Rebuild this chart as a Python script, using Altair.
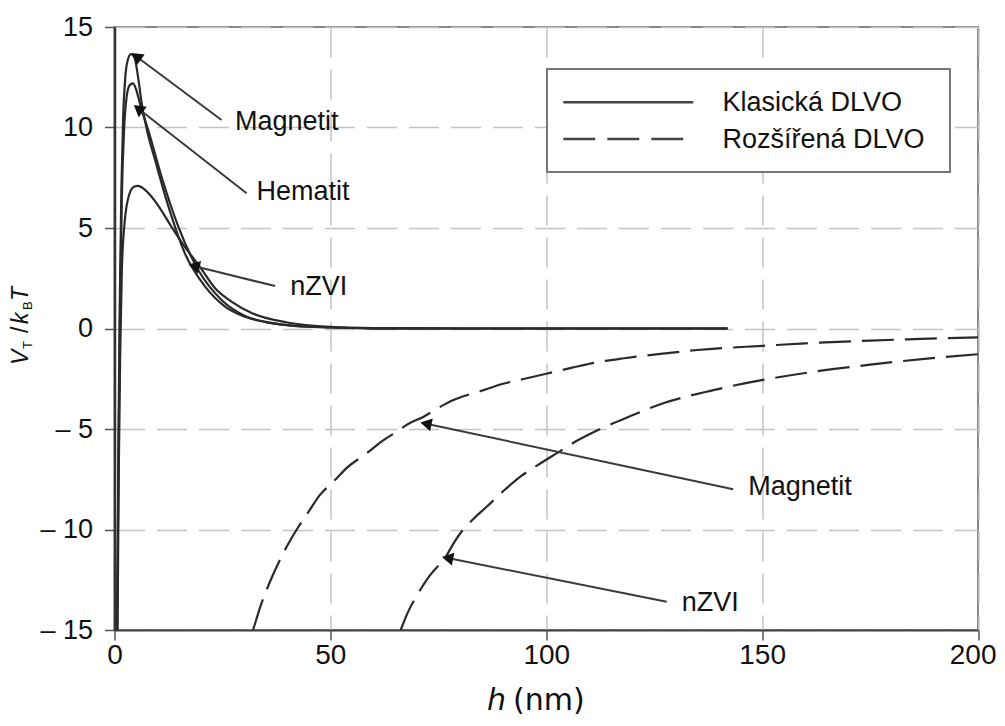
import math
import altair as alt
import pandas as pd

# ---------------- data ----------------
# Classical DLVO (solid lines)
mag_c_h = [0.6, 0.9, 1.2, 1.6, 2.0, 2.5, 3.0, 3.8, 4.6, 5.4, 6.3, 7.7, 9.4, 12.5, 16.3, 21.0, 25.6, 30, 35, 40, 50, 60, 80, 142]
mag_c_v = [-15, -6, 1, 7, 10.5, 12.5, 13.3, 13.65, 13.5, 12.6, 11.2, 9.7, 8.38, 6.06, 3.74, 2.08, 1.09, 0.6, 0.32, 0.17, 0.05, 0.01, 0, 0]
hem_c_h = [0.6, 0.95, 1.3, 1.7, 2.2, 2.8, 3.5, 4.3, 5.0, 6.0, 7.8, 10.9, 14.8, 19.4, 24.8, 30, 35, 40, 50, 60, 80, 142]
hem_c_v = [-15, -6, 1, 6.5, 9.8, 11.5, 12.1, 12.2, 11.9, 11.1, 9.88, 7.55, 5.06, 2.91, 1.42, 0.65, 0.33, 0.17, 0.05, 0.01, 0, 0]
nzvi_c_h = [0.7, 1.0, 1.3, 1.7, 2.4, 3.2, 4.5, 5.5, 6.5, 8.0, 10.0, 13.2, 16.5, 19.8, 23.3, 27, 32, 40, 50, 60, 80, 142]
nzvi_c_v = [-15, -7, -1.5, 2.9, 5.4, 6.5, 7.05, 7.1, 7.0, 6.7, 6.15, 5.06, 4.0, 3.07, 2.0, 1.35, 0.75, 0.3, 0.08, 0.02, 0, 0]

# Extended DLVO (dashed lines)
mag_e_h = [32.1, 34, 36, 39.9, 42.5, 45, 47.5, 50.7, 54, 58.4, 62, 65.4, 68, 71.5, 75, 78.5, 85, 90, 95, 100, 106, 112.5, 118, 125, 135, 150.2, 160, 175, 185, 200]
mag_e_v = [-15, -13.7, -12.6, -10.85, -9.9, -9.1, -8.3, -7.62, -6.9, -6.21, -5.6, -5.13, -4.75, -4.4, -3.95, -3.56, -3.1, -2.75, -2.5, -2.25, -1.95, -1.65, -1.48, -1.3, -1.07, -0.86, -0.74, -0.6, -0.53, -0.44]
nzvi_e_h = [66.3, 68, 70, 73, 76.9, 78.5, 80.4, 83, 86.2, 90, 94, 98, 102.4, 107, 112, 119, 127.1, 138, 150.2, 162, 175, 187, 200]
nzvi_e_v = [-15, -14.1, -13.3, -12.3, -11.3, -10.7, -10.1, -9.5, -8.87, -8.1, -7.37, -6.8, -6.21, -5.6, -5.05, -4.4, -3.72, -3.1, -2.56, -2.15, -1.8, -1.52, -1.28]

series_names = ["Magnetit", "Hematit", "nZVI"]
legend_labels = ["Klasická DLVO", "Rozšířená DLVO"]

x_ticks = [0, 50, 100, 150, 200]
y_ticks = [-15, -10, -5, 0, 5, 10, 15]

# annotations: label, text position, arrow start, arrow tip (data units)
ann_label = ["Magnetit", "Hematit", "nZVI", "Magnetit", "nZVI"]
ann_tx = [27.9, 32.9, 40.7, 146.8, 131.4]
ann_ty = [10.27, 6.79, 2.06, -7.87, -13.66]
arr_x0 = [24.8, 30.6, 37.2, 143.3, 127.9]
arr_y0 = [10.37, 6.73, 2.11, -8.0, -13.59]
arr_x1 = [4.28, 4.75, 17.5, 71.2, 76.2]
arr_y1 = [13.66, 11.07, 3.16, -4.69, -11.38]

# ---------------- layout ----------------
W, H = 863.5, 603
PXX, PXY = W / 200.0, H / 30.0
FONT = "Liberation Sans"
INK = "#2a2a2a"

rows = []
for name, hs, vs in [("Magnetit", mag_c_h, mag_c_v), ("Hematit", hem_c_h, hem_c_v), ("nZVI", nzvi_c_h, nzvi_c_v)]:
    for h, v in zip(hs, vs):
        rows.append({"series": name, "h": h, "v": v})
df_classic = pd.DataFrame(rows)
rows = []
for name, hs, vs in [("Magnetit", mag_e_h, mag_e_v), ("nZVI", nzvi_e_h, nzvi_e_v)]:
    for h, v in zip(hs, vs):
        rows.append({"series": name, "h": h, "v": v})
df_ext = pd.DataFrame(rows)

xs = alt.Scale(domain=[0, 200], nice=False, zero=False)
ys = alt.Scale(domain=[-15, 15], nice=False, zero=False)

last_x = "datum.value == %d" % x_ticks[-1]
x_axis = alt.Axis(values=x_ticks, grid=True, gridDash=[30, 12], gridColor="#c4c4c4", gridWidth=1.5,
                  domain=True, domainColor="#444", domainWidth=2, ticks=True, tickSize=10,
                  tickColor="#555", tickWidth=1.5, labelFont=FONT, labelFontSize=28,
                  labelColor="#111", labelPadding=1, labelFlush=False, title=None,
                  labelAlign=alt.condition(last_x, alt.value("right"), alt.value("center")),
                  labelOffset=alt.condition(last_x, alt.value(18), alt.value(0)))
y_axis = alt.Axis(values=y_ticks, grid=True, gridDash=[30, 12], gridColor="#c4c4c4", gridWidth=1.5,
                  domain=True, domainColor="#333", domainWidth=2.5, ticks=True, tickSize=10,
                  tickColor="#555", tickWidth=1.5, labelFont=FONT, labelFontSize=27,
                  labelColor="#111", labelPadding=12, labelFlush=False, title=None,
                  labelExpr="datum.value < 0 ? '– ' + abs(datum.value) : datum.label")

zero = alt.Chart(pd.DataFrame({"h": [0], "v": [0]})).mark_rule(color="#555", strokeWidth=1.5).encode(
    x=alt.X("h:Q", scale=xs, axis=x_axis),
    y=alt.Y("v:Q", scale=ys, axis=y_axis),
)

classic = alt.Chart(df_classic).mark_line(color=INK, strokeWidth=2.2, interpolate="monotone", clip=True).encode(
    x=alt.X("h:Q", scale=xs), y=alt.Y("v:Q", scale=ys), detail="series:N")

ext = alt.Chart(df_ext).mark_line(color=INK, strokeWidth=2.2, strokeDash=[32, 11], interpolate="monotone", clip=True).encode(
    x=alt.X("h:Q", scale=xs), y=alt.Y("v:Q", scale=ys), detail="series:N")

# arrows
arr_rows = []
for i in range(len(ann_label)):
    dx = (arr_x1[i] - arr_x0[i]) * PXX
    dy = -(arr_y1[i] - arr_y0[i]) * PXY
    L = math.hypot(dx, dy)
    ux, uy = dx / L, dy / L
    ang = math.degrees(math.atan2(dx, -dy)) % 360
    cx = arr_x1[i] - 6 * ux / PXX
    cy = arr_y1[i] + 6 * uy / PXY
    arr_rows.append({"label": ann_label[i], "tx": ann_tx[i], "ty": ann_ty[i],
                     "x0": arr_x0[i], "y0": arr_y0[i], "x1": arr_x1[i] - 8 * ux / PXX,
                     "y1": arr_y1[i] + 8 * uy / PXY, "cx": cx, "cy": cy, "ang": ang})
df_arr = pd.DataFrame(arr_rows)

arrow_lines = alt.Chart(df_arr).mark_rule(color="#3a3a3a", strokeWidth=2).encode(
    x=alt.X("x0:Q", scale=xs), y=alt.Y("y0:Q", scale=ys), x2="x1:Q", y2="y1:Q")
arrow_heads = alt.Chart(df_arr).mark_point(shape="triangle", filled=True, color="#111", size=170, opacity=1).encode(
    x=alt.X("cx:Q", scale=xs), y=alt.Y("cy:Q", scale=ys), angle=alt.Angle("ang:Q", scale=None))
arrow_text = alt.Chart(df_arr).mark_text(align="left", baseline="middle", font=FONT, fontSize=27, color="#111").encode(
    x=alt.X("tx:Q", scale=xs), y=alt.Y("ty:Q", scale=ys), text="label:N")

# legend (drawn by hand in the upper right)
one = pd.DataFrame({"a": [0]})
leg_box = alt.Chart(one).mark_rect(fill="white", stroke="#777", strokeWidth=2).encode(
    x=alt.value(432.5), x2=alt.value(835.5), y=alt.value(42), y2=alt.value(145))
leg_solid = alt.Chart(one).mark_rule(color="#444", strokeWidth=2.5).encode(
    x=alt.value(448.8), x2=alt.value(578.8), y=alt.value(75.3))
leg_dash = alt.Chart(one).mark_rule(color="#444", strokeWidth=2.5, strokeDash=[32, 12]).encode(
    x=alt.value(448.8), x2=alt.value(578.8), y=alt.value(112))
leg_t1 = alt.Chart(one).mark_text(text=legend_labels[0], align="left", baseline="middle", font=FONT, fontSize=27, color="#111").encode(
    x=alt.value(608), y=alt.value(76))
leg_t2 = alt.Chart(one).mark_text(text=legend_labels[1], align="left", baseline="middle", font=FONT, fontSize=27, color="#111").encode(
    x=alt.value(608), y=alt.value(113))

# axis titles with italics and subscripts
def txt(s, x, y, size, italic=False, angle=0, font=FONT):
    kw = dict(text=s, align="left", baseline="alphabetic", font=font, fontSize=size, color="#111")
    if italic:
        kw["fontStyle"] = "italic"
    if angle:
        kw["angle"] = angle
    return alt.Chart(one).mark_text(**kw).encode(x=alt.value(x), y=alt.value(y))

ytitle = [
    txt("V", -86.5, 338, 23, True, 270),
    txt("T", -82.5, 322, 13, False, 270),
    txt("/", -86.5, 306, 23, False, 270),
    txt("k", -86.5, 297, 23, True, 270),
    txt("B", -82.5, 283, 13, False, 270),
    txt("T", -86.5, 274, 23, True, 270),
]
xtitle = [
    txt("h", 372.5, 683, 30, True, 0, "DejaVu Sans"),
    txt("(nm)", 398.5, 683, 30, False, 0, "DejaVu Sans"),
]

chart = alt.layer(
    zero, classic, ext, arrow_lines, arrow_heads, arrow_text,
    leg_box, leg_solid, leg_dash, leg_t1, leg_t2, *ytitle, *xtitle
).properties(
    width=W, height=H,
    autosize=alt.AutoSizeParams(type="none"),
    padding={"left": 106.5, "top": 19, "right": 19, "bottom": 88},
    background="white",
).configure_view(stroke="#888", strokeWidth=2)

chart.save("out.html", embed_options={"renderer": "svg", "actions": False})
